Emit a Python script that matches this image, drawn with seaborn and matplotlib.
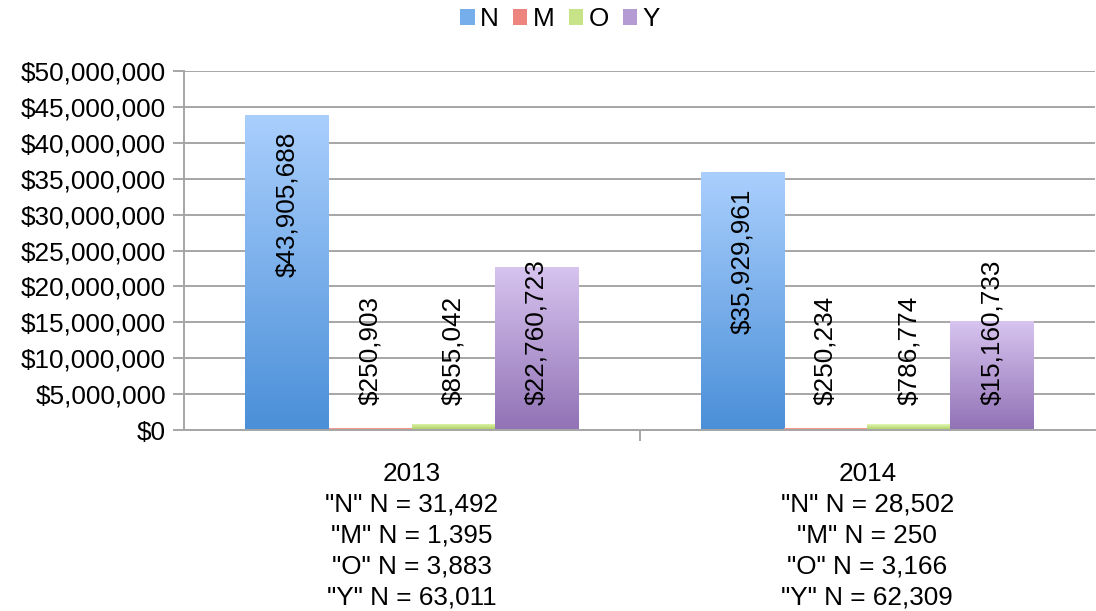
import numpy as np
import pandas as pd
import matplotlib
matplotlib.use("Agg")
import matplotlib.pyplot as plt
from matplotlib.colors import LinearSegmentedColormap
from matplotlib.ticker import FuncFormatter, FixedLocator
import seaborn as sns

# data
years = ["2013", "2014"]
series = ["N", "M", "O", "Y"]
n_vals = [43905688, 35929961]
m_vals = [250903, 250234]
o_vals = [855042, 786774]
y_vals = [22760723, 15160733]
counts = {
    "N": ["31,492", "28,502"],
    "M": ["1,395", "250"],
    "O": ["3,883", "3,166"],
    "Y": ["63,011", "62,309"],
}

# gradient colours (top, bottom) per series
grad = {
    "N": ("#aacffd", "#4a8fd8"),
    "M": ("#fbaba5", "#de5f59"),
    "O": ("#e4f7b4", "#a7cd5c"),
    "Y": ("#d7c4ef", "#9172b6"),
}
mid = {"N": "#76aeec", "M": "#ee847e", "O": "#c6e388", "Y": "#b49bd4"}

df = pd.DataFrame({
    "year": years * 4,
    "series": [s for s in series for _ in years],
    "value": n_vals + m_vals + o_vals + y_vals,
})
df["label"] = [
    y + "\n" + "\n".join(f'"{s}" N = {counts[s][i]}' for s in series)
    for y, i in zip(df["year"], [0, 1] * 4)
]

sns.set_theme(style="white")
plt.rcParams["font.family"] = ["Liberation Sans", "DejaVu Sans"]
plt.rcParams["text.color"] = "black"

FS = 18.8

fig = plt.figure(figsize=(10.96, 6.11), dpi=100)
ax = fig.add_axes([184 / 1096, 1 - 430 / 611, 911 / 1096, 359 / 611])

sns.barplot(data=df, x="label", y="value", hue="series", hue_order=series,
            palette=mid, width=0.73, gap=0, ax=ax, legend=True,
            saturation=1, linewidth=0)

ylim = (0, 50_000_000)
xlim = (-0.5, 1.5)

# gradient fill clipped to each bar
for cont, s in zip(ax.containers, series):
    cmap = LinearSegmentedColormap.from_list(s, [grad[s][1], grad[s][0]])
    for bar in cont:
        x0, w, h = bar.get_x(), bar.get_width(), bar.get_height()
        img = ax.imshow(np.linspace(0, 1, 256).reshape(-1, 1), cmap=cmap,
                        extent=[x0, x0 + w, 0, h], origin="lower",
                        aspect="auto", zorder=bar.get_zorder() + 0.1)
        img.set_clip_path(bar)
        # value labels
        v = h
        txt = f"${v:,.0f}"
        if v > 30_000_000:
            ax.text(x0 + w / 2, v - 2_300_000, txt, rotation=90,
                    ha="center", va="top", fontsize=FS, zorder=5)
        else:
            ax.text(x0 + w / 2, 3_500_000, txt, rotation=90,
                    ha="center", va="bottom", fontsize=FS, zorder=5)

ax.set_xlim(*xlim)
ax.set_ylim(*ylim)
ax.set_yticks(np.arange(0, 50_000_001, 5_000_000))
ax.yaxis.set_major_formatter(FuncFormatter(lambda v, p: f"${v:,.0f}"))
ax.grid(axis="y", color="#a6a6a6", linewidth=1.4)
ax.set_axisbelow(True)
for side in ["top", "right"]:
    ax.spines[side].set_visible(False)
for side in ["left", "bottom"]:
    ax.spines[side].set_color("#a6a6a6")
    ax.spines[side].set_linewidth(1.4)

ax.tick_params(axis="y", which="major", left=True, length=8, width=1.4,
               color="#a6a6a6", labelsize=FS, pad=5, labelcolor="black")
ax.tick_params(axis="x", which="major", bottom=False, labelsize=FS,
               pad=17, labelcolor="black")
ax.xaxis.set_minor_locator(FixedLocator([0.5]))
ax.tick_params(axis="x", which="minor", bottom=True, length=8, width=1.4,
               color="#a6a6a6")
for lab in ax.get_xticklabels():
    lab.set_linespacing(1.36)
ax.set_xlabel("")
ax.set_ylabel("")

# legend at the top
handles, labels = ax.get_legend_handles_labels()
ax.get_legend().remove()
fig.legend(handles, labels, loc="center", bbox_to_anchor=(560 / 1096, 1 - 19 / 611),
           ncol=4, frameon=False, fontsize=FS, handlelength=0.55,
           handleheight=0.55, handletextpad=0.2, columnspacing=0.55)

fig.savefig("out.png", dpi=100)
